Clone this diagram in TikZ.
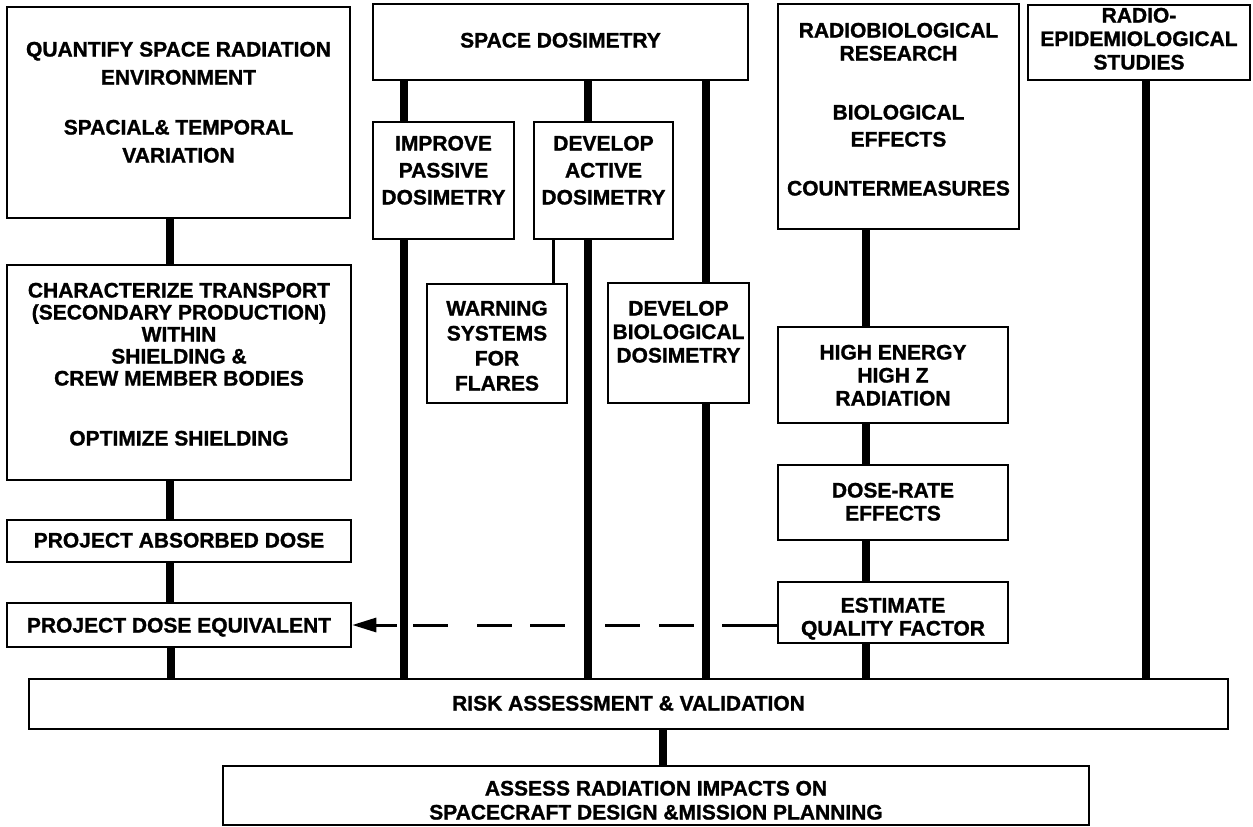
\documentclass[tikz,border=0pt]{standalone}
\usepackage{fontspec}
\setmainfont{Liberation Sans}[BoldFeatures={FakeBold=1.2}]
\usetikzlibrary{backgrounds,arrows.meta}
\newcommand\bt[3]{\raisebox{#1pt}[0pt][0pt]{\fontsize{21}{#2pt}\selectfont\begin{tabular}[t]{@{}c@{}}#3\end{tabular}}}
\begin{document}
\begin{tikzpicture}[x=1pt,y=-1pt,
  box/.style={draw, line width=2.6pt, fill=white, inner sep=0pt, font=\bfseries},
  bar/.style={line width=7.5pt},
  thinbar/.style={line width=3pt},
  dashedarrow/.style={line width=3pt, -{Triangle[length=24pt,width=14pt]},
    dash pattern={on 55pt off 28pt on 35pt off 19pt on 35pt off 40pt on 35pt off 18pt on 35pt off 29pt on 35pt off 16pt on 200pt}}]
\useasboundingbox (0,0) rectangle (1253,827);
% left column
\node[box, minimum width=343, minimum height=211] (q) at (178.5,112.5)
  {\bt{56}{28}{QUANTIFY SPACE RADIATION\\ENVIRONMENT\\[22pt]SPACIAL\& TEMPORAL\\VARIATION}};
\node[box, minimum width=344, minimum height=215] (ct) at (179,372.5)
  {\bt{75}{22}{CHARACTERIZE TRANSPORT\\(SECONDARY PRODUCTION)\\WITHIN\\SHIELDING \&\\CREW MEMBER BODIES\\[38pt]OPTIMIZE SHIELDING}};
\node[box, minimum width=344, minimum height=42] (pad) at (179,541)
  {\bt{-6.5}{22}{PROJECT ABSORBED DOSE}};
\node[box, minimum width=344, minimum height=44] (pde) at (179,625)
  {\bt{-7.5}{22}{PROJECT DOSE EQUIVALENT}};
% space dosimetry
\node[box, minimum width=375, minimum height=76] (sd) at (560.5,42)
  {\bt{-5.5}{22}{SPACE DOSIMETRY}};
\node[box, minimum width=141, minimum height=117] (ipd) at (443.5,180.5)
  {\bt{30}{27}{IMPROVE\\PASSIVE\\DOSIMETRY}};
\node[box, minimum width=139, minimum height=117] (dad) at (603.5,180.5)
  {\bt{30}{27}{DEVELOP\\ACTIVE\\DOSIMETRY}};
\node[box, minimum width=140, minimum height=119] (wsf) at (497,343.5)
  {\bt{28}{25}{WARNING\\SYSTEMS\\FOR\\FLARES}};
\node[box, minimum width=141, minimum height=120] (dbd) at (678.5,343)
  {\bt{27.5}{23.5}{DEVELOP\\BIOLOGICAL\\DOSIMETRY}};
% radiobiology
\node[box, minimum width=241, minimum height=225] (rbr) at (898.5,116.5)
  {\bt{79}{23}{RADIOBIOLOGICAL\\RESEARCH\\[36pt]BIOLOGICAL\\[4pt]EFFECTS\\[26pt]COUNTERMEASURES}};
\node[box, minimum width=222, minimum height=75] (rep) at (1139,42.5)
  {\bt{20}{23.5}{RADIO-\\EPIDEMIOLOGICAL\\STUDIES}};
\node[box, minimum width=230, minimum height=96] (he) at (893,375)
  {\bt{15.5}{23}{HIGH ENERGY\\HIGH Z\\RADIATION}};
\node[box, minimum width=230, minimum height=75] (dr) at (893,502.5)
  {\bt{5}{23}{DOSE-RATE\\EFFECTS}};
\node[box, minimum width=230, minimum height=61] (eq) at (893,612.5)
  {\bt{0}{23}{ESTIMATE\\QUALITY FACTOR}};
% bottom
\node[box, minimum width=1199, minimum height=50] (risk) at (628.5,704)
  {\bt{-6.5}{22}{RISK ASSESSMENT \& VALIDATION}};
\node[box, minimum width=866, minimum height=59] (ass) at (656,795.5)
  {\bt{0}{24}{ASSESS RADIATION IMPACTS ON\\SPACECRAFT DESIGN \&MISSION PLANNING}};
% connectors
\begin{scope}[on background layer]
  \draw[dashedarrow] (eq.west |- pde.east) -- (pde.east);
  \draw[bar] (q.south -| 170,0) -- (ct.north -| 170,0);
  \draw[bar] (ct.south -| 170,0) -- (pad.north -| 170,0);
  \draw[bar] (pad.south -| 170,0) -- (pde.north -| 170,0);
  \draw[bar] (pde.south -| 171,0) -- (risk.north -| 171,0);
  \draw[bar] (sd.south -| 404,0) -- (risk.north -| 404,0);
  \draw[bar] (sd.south -| 588,0) -- (risk.north -| 588,0);
  \draw[bar] (sd.south -| 706,0) -- (risk.north -| 706,0);
  \draw[thinbar] (dad.south -| 553,0) -- (wsf.north -| 553,0);
  \draw[bar] (rbr.south -| 866,0) -- (risk.north -| 866,0);
  \draw[bar] (rep.south -| 1146,0) -- (risk.north -| 1146,0);
  \draw[bar] (risk.south -| 663,0) -- (ass.north -| 663,0);
\end{scope}
\end{tikzpicture}
\end{document}
